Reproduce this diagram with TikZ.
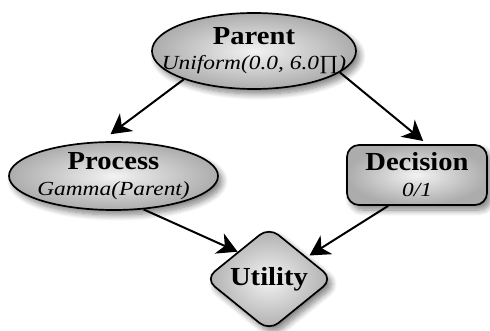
\documentclass[tikz,border=0pt]{standalone}
\usepackage{fontspec}
\setmainfont{Liberation Serif}
\usetikzlibrary{shapes.geometric,shadows.blur,arrows.meta}
\newcommand{\ttl}[1]{\scalebox{1.1}[1]{\fontsize{26}{26}\selectfont\bfseries #1}}
\newcommand{\subt}[1]{\scalebox{1.17}[1]{\fontsize{20}{20}\selectfont\itshape #1}}
\tikzset{
  nodebase/.style={draw=black, line width=1.7pt, shading=radial,
    inner color=gray!10, outer color=gray!65,
    blur shadow={shadow xshift=4pt, shadow yshift=-5pt, shadow blur steps=10, shadow opacity=50, shadow blur radius=6pt},
    align=center, inner sep=0pt, font=\fontsize{24}{25}\selectfont},
  chanceellipse/.style={nodebase, ellipse, inner xsep=-40pt, inner ysep=-6pt},
  decbox/.style={nodebase, rectangle, rounded corners=12pt},
  utildiamond/.style={nodebase, diamond, rounded corners=12pt},
  arc/.style={line width=2pt, -{Stealth[length=20pt,width=22pt,inset=6pt]}},
}
\begin{document}
\begin{tikzpicture}[x=1pt,y=-1pt]
\useasboundingbox (0,0) rectangle (490,331);
\node[chanceellipse, minimum width=204pt, minimum height=76pt] (Parent) at (254,51)
  {\ttl{Parent}\\\subt{Uniform(0.0, 6.0∏)}};
\node[chanceellipse, minimum width=209pt, minimum height=68pt] (Process) at (113.5,176)
  {\ttl{Process}\\[1pt]\subt{Gamma(Parent)}};
\node[decbox, minimum width=140pt, minimum height=60pt] (Decision) at (417,175)
  {\ttl{Decision}\\[1pt]\subt{0/1}};
\node[utildiamond, minimum width=128pt, minimum height=104pt] (Utility) at (269,279)
  {\raisebox{4pt}{\ttl{Utility}}};
\draw[arc, shorten >=12pt] (Parent.202) -- (Process.110);
\draw[arc, shorten >=5pt] (Parent.346) -- (Decision.72);
\draw[arc] (Process.312) -- (Utility.139);
\draw[arc, shorten >=3pt] (Decision.227) -- (Utility.30);
\end{tikzpicture}
\end{document}
